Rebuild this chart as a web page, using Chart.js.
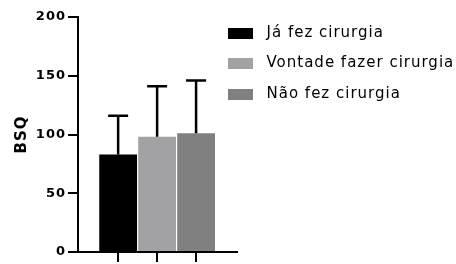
<!DOCTYPE html>
<html>
<head>
<meta charset="utf-8">
<script src="https://cdn.jsdelivr.net/npm/chart.js@4/dist/chart.umd.min.js"></script>
<style>
html,body{margin:0;padding:0;background:#fff;}
#wrap{width:456px;height:264px;position:relative;}
</style>
</head>
<body>
<div id="wrap"><canvas id="c" width="456" height="264"></canvas></div>
<script>
const groups = ['Já fez cirurgia', 'Vontade fazer cirurgia', 'Não fez cirurgia'];
const positions = [1, 2, 3];
const means = [83, 98, 101];
const sds = [33, 43, 45];
const colors = ['#000000', '#a2a2a5', '#808080'];
const yTicks = [0, 50, 100, 150, 200];

const FONT = 'DejaVu Sans';
const PLOT_RIGHT = 237;
const LEGEND_BOX_LEFT = 228;
const LEGEND_TOP = 10;
const SWATCH_W = 25, SWATCH_H = 11, SWATCH_GAP = 6;

// legend swatch images (box + transparent gap before the text)
function swatch(color) {
  const c = document.createElement('canvas');
  c.width = SWATCH_W + SWATCH_GAP;
  c.height = SWATCH_H;
  const g = c.getContext('2d');
  g.fillStyle = color;
  g.fillRect(0, 0, SWATCH_W, SWATCH_H);
  return c;
}

const spacingPlugin = {
  id: 'spacing',
  beforeUpdate(chart) { chart.ctx.letterSpacing = '1px'; },
  beforeLayout(chart) { chart.ctx.letterSpacing = '1px'; },
  beforeDraw(chart) { chart.ctx.letterSpacing = '1px'; }
};

const legendShift = {
  id: 'legendShift',
  afterLayout(chart) {
    const lg = chart.legend;
    const pad = lg.options.labels.padding;
    lg.left = LEGEND_BOX_LEFT - pad;
    lg.right = chart.width;
    lg.width = lg.right - lg.left;
    lg.top = LEGEND_TOP;
  }
};

const errorBars = {
  id: 'errorBars',
  afterDatasetsDraw(chart) {
    const ctx = chart.ctx;
    const y = chart.scales.y;
    ctx.save();
    ctx.strokeStyle = '#000';
    ctx.lineWidth = 2.5;
    chart.data.datasets.forEach((ds, i) => {
      const meta = chart.getDatasetMeta(i);
      const bar = meta.data[0];
      const top = y.getPixelForValue(means[i] + sds[i]);
      ctx.beginPath();
      ctx.moveTo(bar.x, bar.y);
      ctx.lineTo(bar.x, top);
      ctx.moveTo(bar.x - 10, top);
      ctx.lineTo(bar.x + 10, top);
      ctx.stroke();
    });
    ctx.restore();
  }
};

const datasets = groups.map((g, i) => ({
  label: g,
  data: [{x: positions[i], y: means[i]}],
  backgroundColor: colors[i],
  borderWidth: 0,
  barPercentage: 0.97,
  categoryPercentage: 1.0,
  grouped: false,
  pointStyle: swatch(colors[i])
}));

Chart.defaults.color = '#000';
Chart.defaults.font.family = FONT;

const chart = new Chart(document.getElementById('c'), {
  type: 'bar',
  data: { datasets },
  options: {
    responsive: false,
    animation: false,
    devicePixelRatio: 1,
    layout: { padding: { top: 17, right: 0, bottom: 0, left: 0 } },
    plugins: {
      legend: {
        position: 'right',
        align: 'start',
        labels: {
          usePointStyle: true,
          pointStyleWidth: SWATCH_W + SWATCH_GAP,
          boxHeight: SWATCH_H,
          padding: 15.5,
          font: { family: FONT, size: 15 },
          color: '#000'
        }
      },
      tooltip: { enabled: false }
    },
    scales: {
      x: {
        type: 'linear',
        offset: false,
        min: -0.03,
        max: 4.05,
        afterBuildTicks(scale) { scale.ticks = positions.map(v => ({ value: v })); },
        afterFit(scale) { scale.height = 12; },
        ticks: { display: false },
        grid: { offset: false, drawOnChartArea: false, drawTicks: true, tickLength: 10, color: '#000', lineWidth: 2 },
        border: { display: true, color: '#000', width: 2 }
      },
      y: {
        min: 0,
        max: 200,
        afterBuildTicks(scale) { scale.ticks = yTicks.map(v => ({ value: v })); },
        afterFit(scale) { scale.width = 78; },
        ticks: { font: { family: FONT, size: 13, weight: 'bold' }, color: '#000', padding: 2 },
        grid: { drawOnChartArea: false, drawTicks: true, tickLength: 10, color: '#000', lineWidth: 2 },
        border: { display: true, color: '#000', width: 2 },
        title: { display: true, text: 'BSQ', font: { family: FONT, size: 15, weight: 'bold' }, color: '#000', padding: { top: 13, bottom: 0 } }
      }
    }
  },
  plugins: [spacingPlugin, legendShift, errorBars]
});

// force the legend box width so the plot area right edge sits at PLOT_RIGHT
const lg = chart.legend;
const origFit = lg.fit.bind(lg);
lg.fit = function () {
  origFit();
  this.width = chart.width - PLOT_RIGHT;
};
chart.update('none');
</script>
</body>
</html>
